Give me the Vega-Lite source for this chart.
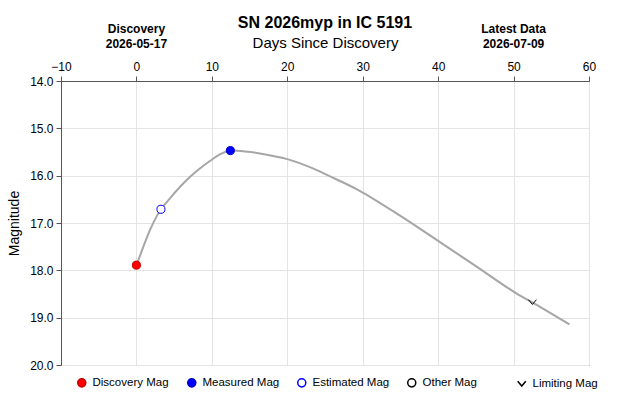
{
  "$schema": "https://vega.github.io/schema/vega-lite/v6.json",
  "autosize": "none",
  "width": 528,
  "height": 284,
  "padding": {"left": 61, "top": 81, "right": 41, "bottom": 40},
  "background": "white",
  "title": {
    "text": "SN 2026myp in IC 5191",
    "fontSize": 16,
    "fontWeight": "bold",
    "font": "Liberation Sans",
    "color": "#000000",
    "anchor": "middle",
    "offset": -8
  },
  "datasets": {
    "curve": [
      {"day": 0, "mag": 17.89},
      {"day": 0.9, "mag": 17.51},
      {"day": 1.79, "mag": 17.15},
      {"day": 2.68, "mag": 16.86},
      {"day": 3.25, "mag": 16.71},
      {"day": 4.44, "mag": 16.48},
      {"day": 5.76, "mag": 16.24},
      {"day": 7.09, "mag": 16.03},
      {"day": 8.41, "mag": 15.85},
      {"day": 9.74, "mag": 15.69},
      {"day": 11.06, "mag": 15.55},
      {"day": 12.45, "mag": 15.47},
      {"day": 14.38, "mag": 15.49},
      {"day": 16.36, "mag": 15.53},
      {"day": 20.0, "mag": 15.65},
      {"day": 23.0, "mag": 15.82},
      {"day": 25.6, "mag": 16.01},
      {"day": 29.6, "mag": 16.32},
      {"day": 34.9, "mag": 16.84},
      {"day": 40.2, "mag": 17.4},
      {"day": 45.0, "mag": 17.91},
      {"day": 50.1, "mag": 18.46},
      {"day": 53.5, "mag": 18.77},
      {"day": 57.4, "mag": 19.14}
    ],
    "points": [
      {"day": 0, "mag": 17.89, "type": "Discovery Mag"},
      {"day": 3.25, "mag": 16.71, "type": "Estimated Mag"},
      {"day": 12.45, "mag": 15.47, "type": "Measured Mag"},
      {"day": 52.5, "mag": 18.67, "type": "Limiting Mag"}
    ],
    "notes": [
      {"day": 0, "label": "Discovery\n2026-05-17"},
      {"day": 50, "label": "Latest Data\n2026-07-09"}
    ]
  },
  "config": {
    "font": "Liberation Sans",
    "view": {"stroke": "#555555", "strokeWidth": 1},
    "axis": {
      "domainColor": "#555555",
      "tickColor": "#555555",
      "gridColor": "#e4e4e4",
      "labelColor": "#000000",
      "titleColor": "#000000",
      "labelFont": "Liberation Sans",
      "titleFont": "Liberation Sans",
      "titleFontWeight": "normal",
      "tickSize": 5,
      "labelFontSize": 12
    },
    "legend": {
      "labelFont": "Liberation Sans",
      "labelFontSize": 11.5,
      "labelColor": "#000000",
      "symbolSize": 65
    }
  },
  "layer": [
    {
      "data": {"name": "curve"},
      "mark": {"type": "line", "interpolate": "catmull-rom", "color": "#a6a6a6", "strokeWidth": 2},
      "encoding": {
        "x": {
          "field": "day",
          "type": "quantitative",
          "scale": {"domain": [-10, 60], "nice": false, "zero": false},
          "axis": {
            "orient": "top",
            "values": [-10, 0, 10, 20, 30, 40, 50, 60],
            "title": "Days Since Discovery",
            "titleFontSize": 15,
            "titlePadding": 10,
            "labelPadding": 3,
            "labelFlush": false
          }
        },
        "y": {
          "field": "mag",
          "type": "quantitative",
          "scale": {"domain": [14, 20], "reverse": true, "nice": false, "zero": false},
          "axis": {
            "values": [14, 15, 16, 17, 18, 19, 20],
            "format": ".1f",
            "title": "Magnitude",
            "titleFontSize": 14,
            "titlePadding": 8,
            "labelPadding": 3
          }
        }
      }
    },
    {
      "data": {"name": "points"},
      "mark": {"type": "point", "filled": true, "strokeWidth": 1, "size": 65, "opacity": 1},
      "encoding": {
        "x": {"field": "day", "type": "quantitative"},
        "y": {"field": "mag", "type": "quantitative"},
        "shape": {
          "field": "type",
          "type": "nominal",
          "scale": {
            "domain": ["Discovery Mag", "Measured Mag", "Estimated Mag", "Other Mag", "Limiting Mag"],
            "range": ["circle", "circle", "circle", "circle", "M-1,-0.6L0,0.6L1,-0.6"]
          },
          "legend": {
            "title": null,
            "orient": "none",
            "direction": "horizontal",
            "columns": 5,
            "gridAlign": "all",
            "columnPadding": 14,
            "labelOffset": 5,
            "legendX": 15,
            "legendY": 296
          }
        },
        "fill": {
          "field": "type",
          "type": "nominal",
          "scale": {
            "domain": ["Discovery Mag", "Measured Mag", "Estimated Mag", "Other Mag", "Limiting Mag"],
            "range": ["#ff0000", "#0000ff", "#ffffff", "#ffffff", "transparent"]
          }
        },
        "stroke": {
          "field": "type",
          "type": "nominal",
          "scale": {
            "domain": ["Discovery Mag", "Measured Mag", "Estimated Mag", "Other Mag", "Limiting Mag"],
            "range": ["#cc0000", "#0000cc", "#0000ff", "#000000", "#000000"]
          }
        }
      }
    },
    {
      "data": {"name": "notes"},
      "mark": {
        "type": "text",
        "lineBreak": "\n",
        "fontSize": 12,
        "fontWeight": "bold",
        "baseline": "top",
        "align": "center",
        "lineHeight": 14.5,
        "color": "#000000",
        "clip": false
      },
      "encoding": {
        "x": {"field": "day", "type": "quantitative"},
        "y": {"value": -57},
        "text": {"field": "label", "type": "nominal"}
      }
    }
  ]
}
